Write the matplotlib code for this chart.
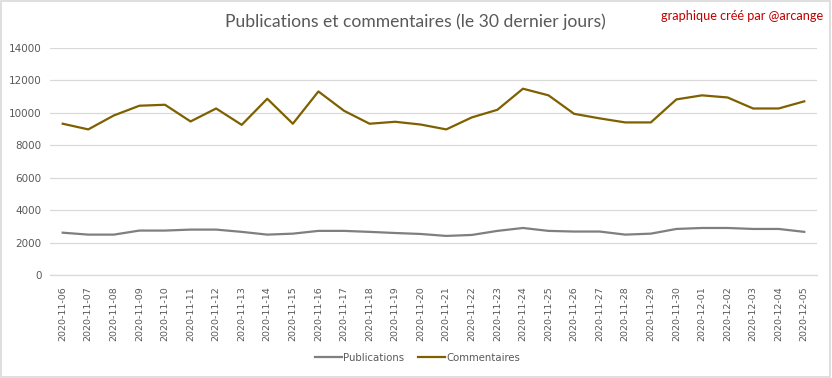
#!/usr/bin/env python3
"""Publications et commentaires sur les 30 derniers jours."""

import matplotlib

matplotlib.use("Agg")
import matplotlib.pyplot as plt
import numpy as np
from matplotlib.patches import Rectangle

DATES = [
    "2020-11-06", "2020-11-07", "2020-11-08", "2020-11-09", "2020-11-10",
    "2020-11-11", "2020-11-12", "2020-11-13", "2020-11-14", "2020-11-15",
    "2020-11-16", "2020-11-17", "2020-11-18", "2020-11-19", "2020-11-20",
    "2020-11-21", "2020-11-22", "2020-11-23", "2020-11-24", "2020-11-25",
    "2020-11-26", "2020-11-27", "2020-11-28", "2020-11-29", "2020-11-30",
    "2020-12-01", "2020-12-02", "2020-12-03", "2020-12-04", "2020-12-05",
]
PUBLICATIONS = [
    2610, 2490, 2490, 2740, 2740, 2800, 2800, 2660, 2490, 2550,
    2720, 2720, 2660, 2590, 2530, 2410, 2470, 2720, 2900, 2720,
    2680, 2680, 2490, 2550, 2840, 2900, 2900, 2840, 2840, 2660,
]
COMMENTAIRES = [
    9330, 8980, 9840, 10440, 10500, 9470, 10270, 9260, 10870, 9330,
    11320, 10130, 9330, 9450, 9280, 8980, 9720, 10190, 11490, 11080,
    9940, 9660, 9410, 9410, 10830, 11080, 10950, 10270, 10270, 10710,
]
Y_TICKS = [0, 2000, 4000, 6000, 8000, 10000, 12000, 14000]

TEXT_GREY = "#595959"
GRID_GREY = "#D9D9D9"
PUB_COLOR = "#7F7F7F"
COM_COLOR = "#7F6000"


def main() -> None:
    fig = plt.figure(figsize=(8.32, 3.78), dpi=100)
    ax = fig.add_axes([0.060, 0.2725, 0.922, 0.6005])

    x = np.arange(len(DATES))
    ax.plot(x, PUBLICATIONS, color=PUB_COLOR, linewidth=1.6, label="Publications",
            solid_joinstyle="round")
    ax.plot(x, COMMENTAIRES, color=COM_COLOR, linewidth=1.6, label="Commentaires",
            solid_joinstyle="round")

    ax.set_xlim(-0.5, len(DATES) - 0.5)
    ax.set_ylim(0, 14000)
    ax.set_yticks(Y_TICKS)
    ax.set_yticklabels([str(v) for v in Y_TICKS], color=TEXT_GREY, fontsize=7.5,
                       family="DejaVu Sans")
    ax.set_xticks(x)
    ax.set_xticklabels(DATES, rotation=90, color=TEXT_GREY, fontsize=6.8,
                       family="DejaVu Sans")
    ax.tick_params(length=0, pad=6)
    ax.tick_params(axis="x", pad=8)
    ax.grid(axis="y", color=GRID_GREY, linewidth=0.9)
    ax.set_axisbelow(True)
    for side in ["top", "right", "left"]:
        ax.spines[side].set_visible(False)
    ax.spines["bottom"].set_color(GRID_GREY)
    ax.spines["bottom"].set_linewidth(0.9)

    fig.text(0.499, 0.943, "Publications et commentaires (le 30 dernier jours)",
             ha="center", va="center", fontsize=12.6, color=TEXT_GREY, family="Lato")
    fig.text(0.989, 0.958, "graphique créé par @arcange", ha="right", va="center",
             fontsize=9.2, color="#C00000", family="Lato")

    fig.legend(loc="center", bbox_to_anchor=(0.502, 0.053), ncol=2, frameon=False,
               handlelength=2.6, handletextpad=0.15, columnspacing=1.4,
               labelcolor=TEXT_GREY, prop={"family": "DejaVu Sans", "size": 7.3})

    fig.patches.append(Rectangle((0.001, 0.002), 0.997, 0.996, transform=fig.transFigure,
                                 fill=False, edgecolor=GRID_GREY, linewidth=1.2))

    fig.savefig("out.png", dpi=100, facecolor="white")
    plt.close(fig)


if __name__ == "__main__":
    main()
